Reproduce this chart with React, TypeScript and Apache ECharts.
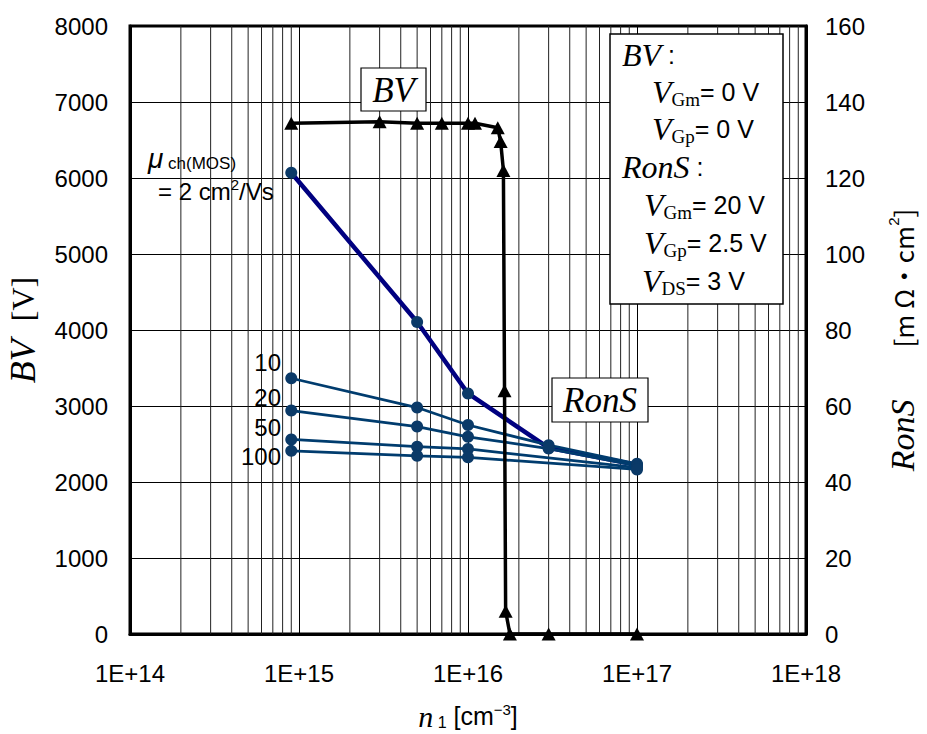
import React, { useEffect, useRef } from 'react';
import * as echarts from 'echarts';

// ---- data ----
const bvX = [9e14, 3e15, 5e15, 7e15, 1e16, 1.1e16, 1.5e16, 1.56e16, 1.62e16, 1.645e16, 1.67e16, 1.77e16, 3e16, 1e17];
const bvValues = [6720, 6740, 6720, 6720, 6720, 6720, 6660, 6480, 6100, 3200, 300, 0, 0, 0];

const ronsXFull = [9e14, 5e15, 1e16, 3e16, 1e17];
const ronsXShort = [9e14, 5e15, 1e16, 1e17];
const ronsMu2 = [121.4, 82.1, 63.3, 49.0, 44.5];
const ronsMu10 = [67.3, 59.6, 55.0, 49.7, 44.8];
const ronsMu20 = [58.8, 54.6, 51.9, 48.8, 44.3];
const ronsMu50 = [51.2, 49.3, 48.7, 43.8];
const ronsMu100 = [48.2, 46.9, 46.5, 43.3];

const mobilityLabels = ['10', '20', '50', '100'];
const xTickExponents = [14, 15, 16, 17, 18];
const minorGridValues = [
  2e14, 3e14, 4e14, 5e14, 6e14, 7e14, 8e14, 9e14,
  2e15, 3e15, 4e15, 5e15, 6e15, 7e15, 8e15, 9e15,
  2e16, 3e16, 4e16, 5e16, 6e16, 7e16, 8e16, 9e16,
  2e17, 3e17, 4e17, 5e17, 6e17, 7e17, 8e17, 9e17,
];

const serif = '"Liberation Serif", "DejaVu Serif", serif';
const sans = '"Liberation Sans", Arial, sans-serif';
const cjk = '"Noto Sans CJK JP", "Liberation Sans", sans-serif';

const zip = (xs: number[], ys: number[]) => xs.map((x, i) => [x, ys[i]]);

export default function App() {
  const ref = useRef<HTMLDivElement>(null);
  useEffect(() => {
    if (!ref.current) return;
    const chart = echarts.init(ref.current, undefined, { renderer: 'svg' });

    const ronsLine = (name: string, xs: number[], ys: number[], thick: boolean) => ({
      name,
      type: 'line',
      yAxisIndex: 1,
      data: zip(xs, ys),
      symbol: 'circle',
      symbolSize: 12,
      itemStyle: { color: '#0b3a68' },
      lineStyle: { color: thick ? '#000080' : '#003c6e', width: thick ? 4.5 : 2.8 },
      z: 3,
    });

    const legendLine = (x: number, y: number, text: string) => ({
      type: 'text',
      x,
      y,
      z: 102,
      style: {
        text,
        textVerticalAlign: 'middle',
        rich: {
          v: { fontFamily: serif, fontStyle: 'italic', fontSize: 32, lineHeight: 34, fill: '#000' },
          s: { fontFamily: serif, fontSize: 19, lineHeight: 19, verticalAlign: 'bottom', fill: '#000' },
          t: { fontFamily: sans, fontSize: 25, lineHeight: 34, fill: '#000' },
        },
      },
    });

    const option: any = {
      animation: false,
      backgroundColor: '#fff',
      grid: {
        left: 130, right: 121, top: 26, bottom: 100,
        containLabel: false,
        outerBoundsMode: 'none',
        show: true, borderColor: '#000', borderWidth: 3, backgroundColor: 'transparent',
      },
      xAxis: {
        type: 'log',
        logBase: 10,
        min: 1e14,
        max: 1e18,
        splitNumber: 4,
        axisLine: { show: true, onZero: false, lineStyle: { color: '#000', width: 3 } },
        axisTick: { show: false },
        axisLabel: {
          formatter: (v: number) => {
            const e = Math.round(Math.log10(v));
            return xTickExponents.includes(e) ? '1E+' + e : '';
          },
          fontSize: 24, color: '#000', fontFamily: sans, margin: 27,
        },
        splitLine: { show: true, lineStyle: { color: '#000', width: 1 } },
        name: '{n|n}{sub| 1}{t| [cm}{sup|−3}{t|]}',
        nameLocation: 'middle',
        nameGap: 68,
        nameTextStyle: {
          rich: {
            n: { fontFamily: serif, fontStyle: 'italic', fontSize: 30, lineHeight: 28, color: '#000' },
            sub: { fontFamily: sans, fontSize: 16, lineHeight: 16, verticalAlign: 'bottom', color: '#000' },
            t: { fontFamily: sans, fontSize: 25, lineHeight: 28, color: '#000' },
            sup: { fontFamily: sans, fontSize: 15, lineHeight: 15, verticalAlign: 'top', color: '#000' },
          },
        },
      },
      yAxis: [
        {
          type: 'value',
          min: 0, max: 8000, interval: 1000,
          axisLine: { show: true, lineStyle: { color: '#000', width: 3 } },
          axisTick: { show: false },
          axisLabel: { fontSize: 24, color: '#000', fontFamily: sans, margin: 22, formatter: (v: number) => String(v) },
          splitLine: { show: true, lineStyle: { color: '#000', width: 1 } },
          name: '{i|BV}{g|}{t|[V]}',
          nameLocation: 'middle',
          nameRotate: 90,
          nameGap: 90,
          nameTextStyle: {
            rich: {
              i: { fontFamily: serif, fontStyle: 'italic', fontSize: 36, lineHeight: 34, color: '#000' },
              g: { width: 18 },
              t: { fontFamily: serif, fontSize: 32, lineHeight: 34, color: '#000' },
            },
          },
        },
        {
          type: 'value',
          min: 0, max: 160, interval: 20,
          position: 'right',
          axisLine: { show: true, lineStyle: { color: '#000', width: 3 } },
          axisTick: { show: false },
          axisLabel: { fontSize: 24, color: '#000', fontFamily: sans, margin: 19, formatter: (v: number) => String(v) },
          splitLine: { show: false },
          name: '{i|RonS}{g|}{t|[m Ω・cm}{sup|2}{t|]}{e|}',
          nameLocation: 'middle',
          nameRotate: 90,
          nameGap: 80,
          nameTextStyle: {
            rich: {
              i: { fontFamily: serif, fontStyle: 'italic', fontSize: 34, lineHeight: 32, color: '#000' },
              g: { width: 52 },
              t: { fontFamily: cjk, fontSize: 26, lineHeight: 32, color: '#000' },
              sup: { fontFamily: sans, fontSize: 15, lineHeight: 15, verticalAlign: 'top', color: '#000' },
              e: { width: 20 },
            },
          },
        },
      ],
      series: [
        {
          name: 'minor grid',
          type: 'custom',
          yAxisIndex: 0,
          silent: true,
          z: 1,
          data: minorGridValues.map((v) => [v, 0]),
          encode: { x: 0, y: 1 },
          renderItem: (_params: any, api: any) => {
            const x = api.value(0);
            const p1 = api.coord([x, 0]);
            const p2 = api.coord([x, 8000]);
            return {
              type: 'line',
              shape: { x1: p1[0], y1: p1[1], x2: p2[0], y2: p2[1] },
              style: { stroke: '#222', lineWidth: 1 },
            };
          },
        },
        ronsLine('RonS μ=2', ronsXFull, ronsMu2, true),
        ronsLine('RonS μ=10', ronsXFull, ronsMu10, false),
        ronsLine('RonS μ=20', ronsXFull, ronsMu20, false),
        ronsLine('RonS μ=50', ronsXShort, ronsMu50, false),
        ronsLine('RonS μ=100', ronsXShort, ronsMu100, false),
        {
          name: 'BV',
          type: 'line',
          yAxisIndex: 0,
          data: zip(bvX, bvValues),
          symbol: 'triangle',
          symbolSize: [14, 13],
          itemStyle: { color: '#000' },
          lineStyle: { color: '#000', width: 3.5 },
          z: 5,
        },
      ],
      graphic: [
        // BV tag
        { type: 'rect', z: 100, shape: { x: 361, y: 68, width: 65, height: 43 }, style: { fill: '#fff', stroke: '#000', lineWidth: 1.2 } },
        { type: 'text', z: 101, x: 393.5, y: 90, style: { text: 'BV', font: `italic 35px ${serif}`, fill: '#000', textAlign: 'center', textVerticalAlign: 'middle' } },
        // RonS tag
        { type: 'rect', z: 100, shape: { x: 552, y: 378, width: 96, height: 44 }, style: { fill: '#fff', stroke: '#000', lineWidth: 1.2 } },
        { type: 'text', z: 101, x: 600, y: 400, style: { text: 'RonS', font: `italic 35px ${serif}`, fill: '#000', textAlign: 'center', textVerticalAlign: 'middle' } },
        // mobility annotation
        {
          type: 'text', z: 101, x: 148, y: 158,
          style: {
            text: '{m|μ}{s| ch(MOS)}',
            textVerticalAlign: 'middle',
            rich: {
              m: { fontFamily: sans, fontStyle: 'italic', fontSize: 28, lineHeight: 28, fill: '#000' },
              s: { fontFamily: sans, fontSize: 17, lineHeight: 17, verticalAlign: 'bottom', fill: '#000' },
            },
          },
        },
        {
          type: 'text', z: 101, x: 158, y: 191,
          style: {
            text: '{t|= 2 cm}{p|2}{t|/Vs}',
            textVerticalAlign: 'middle',
            rich: {
              t: { fontFamily: sans, fontSize: 24, lineHeight: 28, fill: '#000' },
              p: { fontFamily: sans, fontSize: 15, lineHeight: 15, verticalAlign: 'top', fill: '#000' },
            },
          },
        },
        ...mobilityLabels.map((t, i) => ({
          type: 'text', z: 101, x: 281, y: [362, 397, 427, 456][i],
          style: { text: t, font: `24px ${sans}`, fill: '#000', textAlign: 'right', textVerticalAlign: 'middle' },
        })),
        // condition box
        { type: 'rect', z: 100, shape: { x: 610, y: 34, width: 173, height: 270 }, style: { fill: '#fff', stroke: '#000', lineWidth: 1.5 } },
        legendLine(622, 55, '{v|BV}{t| :}'),
        legendLine(652, 92, '{v|V}{s|Gm}{t|= 0 V}'),
        legendLine(652, 129, '{v|V}{s|Gp}{t|= 0 V}'),
        legendLine(622, 167, '{v|RonS}{t| :}'),
        legendLine(644, 205, '{v|V}{s|Gm}{t|= 20 V}'),
        legendLine(644, 243, '{v|V}{s|Gp}{t|= 2.5 V}'),
        legendLine(642, 281, '{v|V}{s|DS}{t|= 3 V}'),
      ],
    };

    chart.setOption(option);
    return () => chart.dispose();
  }, []);

  return <div ref={ref} style={{ position: 'fixed', left: 0, top: 0, width: 927, height: 734, background: '#fff' }} />;
}
